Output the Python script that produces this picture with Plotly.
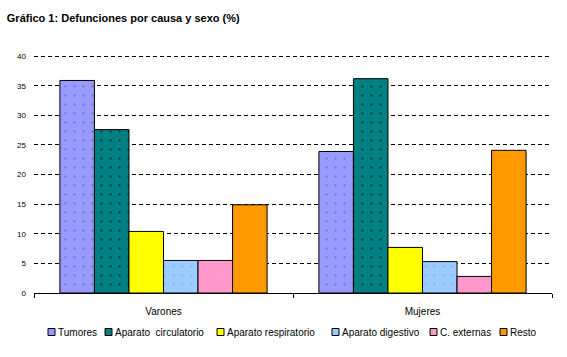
import plotly.graph_objects as go

categories = ["Varones", "Mujeres"]
series_names = ["Tumores", "Aparato  circulatorio", "Aparato respiratorio",
                "Aparato digestivo", "C. externas", "Resto"]
tumores = [35.9, 23.9]
circulatorio = [27.6, 36.2]
respiratorio = [10.4, 7.7]
digestivo = [5.5, 5.3]
externas = [5.5, 2.8]
resto = [14.9, 24.1]
y_ticks = [0, 5, 10, 15, 20, 25, 30, 35, 40]

values = [tumores, circulatorio, respiratorio, digestivo, externas, resto]
colors = ["#9999FF", "#008080", "#FFFF00", "#99CCFF", "#FF99CC", "#FF9900"]
pat_fg = ["#008080", "#000000", None, "#CC66FF", None, None]

W, H = 567, 357
ML, MR, MT, MB = 34, 15, 55, 64
PW, PH = W - ML - MR, H - MT - MB

fig = go.Figure()
for name, vals, col, fg in zip(series_names, values, colors, pat_fg):
    marker = dict(color=col, line=dict(color="black", width=1))
    if fg:
        marker["pattern"] = dict(shape=".", fgcolor=fg, bgcolor=col, size=9, solidity=0.05)
    fig.add_trace(go.Bar(name=name, x=categories, y=vals, marker=marker, showlegend=False))

# manual legend (single row, like the original)
legend_px = [48, 105, 217, 332, 430, 500]  # left x of each legend square, pixels
legend_ypx = 332
sq = 7
shapes, annotations = [], []
for name, col, lx in zip(series_names, colors, legend_px):
    x0 = (lx - ML) / PW
    x1 = (lx + sq - ML) / PW
    y0 = (MT + PH - (legend_ypx + sq / 2)) / PH
    y1 = (MT + PH - (legend_ypx - sq / 2)) / PH
    shapes.append(dict(type="rect", xref="paper", yref="paper", x0=x0, x1=x1, y0=y0, y1=y1,
                       fillcolor=col, line=dict(color="black", width=1)))
    annotations.append(dict(xref="paper", yref="paper", x=(lx + sq + 1 - ML) / PW,
                            y=(MT + PH - legend_ypx) / PH, xanchor="left", yanchor="middle",
                            text=name.replace("  ", "&nbsp; "), showarrow=False,
                            font=dict(size=10, color="black")))

fig.update_layout(
    width=W, height=H,
    barmode="group", bargap=0.2, bargroupgap=0,
    plot_bgcolor="white", paper_bgcolor="white",
    font=dict(family="Arial, Liberation Sans, sans-serif", size=10, color="black"),
    title=dict(text="<b>Gráfico 1: Defunciones por causa y sexo (%)</b>",
               x=0.012, xanchor="left", y=0.95, yanchor="middle",
               font=dict(size=11, family="Arial, Liberation Sans, sans-serif")),
    margin=dict(l=ML, r=MR, t=MT, b=MB, autoexpand=False),
    showlegend=False,
    shapes=shapes,
    annotations=annotations,
)
fig.update_xaxes(showline=True, linecolor="black", linewidth=1, automargin=False,
                 ticks="outside", tickson="boundaries", ticklen=4, tickcolor="black",
                 showgrid=False, tickfont=dict(size=10), ticklabelstandoff=9)
fig.update_yaxes(range=[0, 40.2], tickvals=y_ticks, showline=False, automargin=False,
                 showgrid=True, gridcolor="black", griddash="4px,3px", gridwidth=1,
                 zeroline=False, tickfont=dict(size=8), ticks="", ticklabelstandoff=7)

fig.write_html("out.html", config={"displayModeBar": False})

# remove the default page margin so the figure sits at the window's top-left corner
with open("out.html", encoding="utf-8") as f:
    html = f.read()
html = html.replace("<body>", '<body style="margin:0;padding:0">', 1)
with open("out.html", "w", encoding="utf-8") as f:
    f.write(html)
